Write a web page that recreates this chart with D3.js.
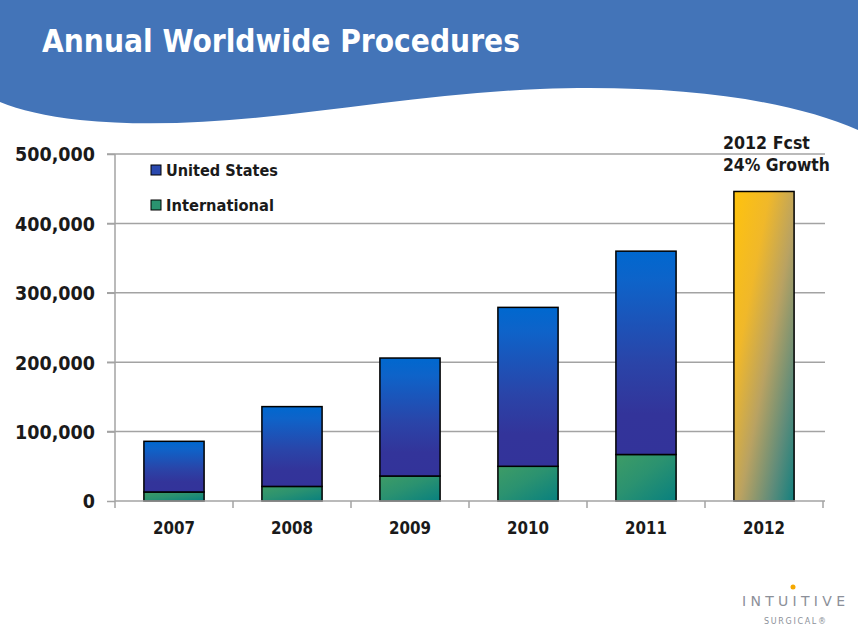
<!DOCTYPE html>
<html><head><meta charset="utf-8">
<script src="https://cdn.jsdelivr.net/npm/d3@7"></script>
<style>
html,body{margin:0;padding:0;background:#fff;}
svg{display:block;}
</style></head>
<body>
<script>
const years = ["2007","2008","2009","2010","2011","2012"];
const international = [13000, 21000, 36000, 50000, 67000, 0];
const unitedStates = [73000, 115000, 170000, 229000, 293000, 0];
const forecast = [0, 0, 0, 0, 0, 446000];
const yTicks = [0, 100000, 200000, 300000, 400000, 500000];
const seriesNames = ["United States", "International"];
const title = "Annual Worldwide Procedures";
const noteLines = ["2012 Fcst", "24% Growth"];

const W = 858, H = 638;
const svg = d3.select("body").append("svg").attr("width", W).attr("height", H);
const defs = svg.append("defs");

function lin(id, x2, y2, stops){
  const g = defs.append("linearGradient").attr("id", id)
    .attr("x1",0).attr("y1",0).attr("x2",x2).attr("y2",y2);
  stops.forEach(s => g.append("stop").attr("offset", s[0]).attr("stop-color", s[1]));
}
lin("gUS", 0, 1, [[0,"#0068CF"],[0.15,"#0E63C9"],[0.55,"#2A44A8"],[0.8,"#33349A"],[1,"#33339A"]]);
lin("gIN", 1, 1, [[0,"#3E9C66"],[0.45,"#2B9270"],[1,"#08807F"]]);
lin("gFC", 1, 1, [[0,"#FFC30D"],[0.3,"#F0B82A"],[0.55,"#B9A262"],[0.8,"#5F8C7A"],[1,"#12807F"]]);

// header wave
svg.append("path")
  .attr("d","M0,0 H858 V130 C790,100 680,84 540,89 C380,95 230,135 80,120 C45,116 20,110 0,102 Z")
  .attr("fill","#4374B8");

function fitSize(sel, width){
  const fs = parseFloat(sel.attr("font-size"));
  const w = sel.node().getComputedTextLength();
  return fs*width/w;
}
function fit(sel, width){ sel.attr("font-size", fitSize(sel, width).toFixed(2)); }

const font = "'DejaVu Sans Condensed','DejaVu Sans',sans-serif";

const tt = svg.append("text").text(title)
  .attr("x", 42).attr("y", 52)
  .attr("font-family",font)
  .attr("font-weight","bold").attr("font-size",30).attr("fill","#fff");
fit(tt, 478);

const x = d3.scaleBand().domain(years).range([115, 823]).paddingInner(0.49).paddingOuter(0.245);
const y = d3.scaleLinear().domain([0, 500000]).range([501, 154]);

// gridlines
svg.append("g").selectAll("line").data(yTicks.slice(1)).join("line")
  .attr("x1", 107).attr("x2", 825)
  .attr("y1", d => y(d)).attr("y2", d => y(d))
  .attr("stroke","#A3A3A3").attr("stroke-width",1.5);

// y axis
const yAxis = svg.append("g").attr("transform","translate(115,0)")
  .call(d3.axisLeft(y).tickValues(yTicks).tickSize(8).tickPadding(12).tickFormat(d3.format(",")));
yAxis.select(".domain").attr("stroke","#A3A3A3").attr("stroke-width",1.5).attr("d","M0,154V501");
yAxis.selectAll(".tick line").attr("stroke","#A3A3A3").attr("stroke-width",1.5);
const yLabels = yAxis.selectAll(".tick text").attr("font-family",font).attr("font-weight","bold")
  .attr("font-size",19).attr("fill","#1a1a1a").attr("dy","0.35em");
const refLabel = yLabels.filter(d => d === 500000);
const yfs = fitSize(refLabel, 80);
yLabels.attr("font-size", yfs.toFixed(2));

// stacked data
const rows = years.map((yr,i)=>({year:yr, International:international[i], "United States":unitedStates[i]}));
const stack = d3.stack().keys(["International","United States"])(rows);
const fills = {"International":"url(#gIN)","United States":"url(#gUS)"};

const bars = svg.append("g");
stack.forEach(layer => {
  bars.append("g").selectAll("rect").data(layer.filter(d => d[1] > d[0])).join("rect")
    .attr("x", d => x(d.data.year)).attr("width", x.bandwidth())
    .attr("y", d => y(d[1])).attr("height", d => y(d[0]) - y(d[1]))
    .attr("fill", fills[layer.key]).attr("stroke","#000").attr("stroke-width",1.5);
});
bars.append("g").selectAll("rect").data(years.map((yr,i)=>({year:yr, v:forecast[i]})).filter(d=>d.v>0)).join("rect")
  .attr("x", d => x(d.year)).attr("width", x.bandwidth())
  .attr("y", d => y(d.v)).attr("height", d => y(0) - y(d.v))
  .attr("fill","url(#gFC)").attr("stroke","#000").attr("stroke-width",1.5);

// x axis
const xg = svg.append("g");
xg.append("line").attr("x1",115).attr("x2",825).attr("y1",501).attr("y2",501)
  .attr("stroke","#A3A3A3").attr("stroke-width",1.5);
const bounds = years.map((d,i) => 115 + i*x.step());
bounds.push(823);
xg.selectAll("line.t").data(bounds).join("line").attr("class","t")
  .attr("x1", d=>d).attr("x2", d=>d).attr("y1",501).attr("y2",508)
  .attr("stroke","#A3A3A3").attr("stroke-width",1.5);
const xl = xg.selectAll("text").data(years).join("text")
  .attr("x", d => x(d) + x.bandwidth()/2).attr("y", 534)
  .attr("text-anchor","middle").attr("font-family",font).attr("font-weight","bold")
  .attr("font-size",19).attr("fill","#1a1a1a").text(d=>d);
xl.attr("font-size", fitSize(xl.filter((d,i)=>i===0), 42).toFixed(2));

// legend
const legend = svg.append("g");
const legendFill = {"United States":"#2A49AE","International":"#2A9470"};
seriesNames.forEach((n,i) => {
  const ly = 170 + i*35;
  legend.append("rect").attr("x",151).attr("y",ly-5).attr("width",10).attr("height",10)
    .attr("fill",legendFill[n]).attr("stroke","#000").attr("stroke-width",1);
  const t = legend.append("text").attr("x",166).attr("y",ly+6).text(n)
    .attr("font-family",font).attr("font-weight","bold").attr("font-size",17).attr("fill","#1a1a1a");
  fit(t, i===0 ? 112 : 108);
});

// annotation
noteLines.forEach((l,i) => {
  const t = svg.append("text").attr("x",723).attr("y",149 + i*22).text(l)
    .attr("font-family",font).attr("font-weight","bold").attr("font-size",17).attr("fill","#1a1a1a");
  fit(t, i===0 ? 87 : 107);
});

// logo
svg.append("circle").attr("cx",793).attr("cy",587).attr("r",2.5).attr("fill","#F5A800");
svg.append("text").attr("x",742).attr("y",606).text("INTUITIVE")
  .attr("font-family","'DejaVu Sans',sans-serif").attr("font-size",14).attr("fill","#8C9099")
  .attr("textLength",103).attr("lengthAdjust","spacing");
svg.append("text").attr("x",764).attr("y",624).text("SURGICAL®")
  .attr("font-family","'DejaVu Sans',sans-serif").attr("font-size",8).attr("fill","#8C9099")
  .attr("textLength",62).attr("lengthAdjust","spacing");
</script>
</body></html>
